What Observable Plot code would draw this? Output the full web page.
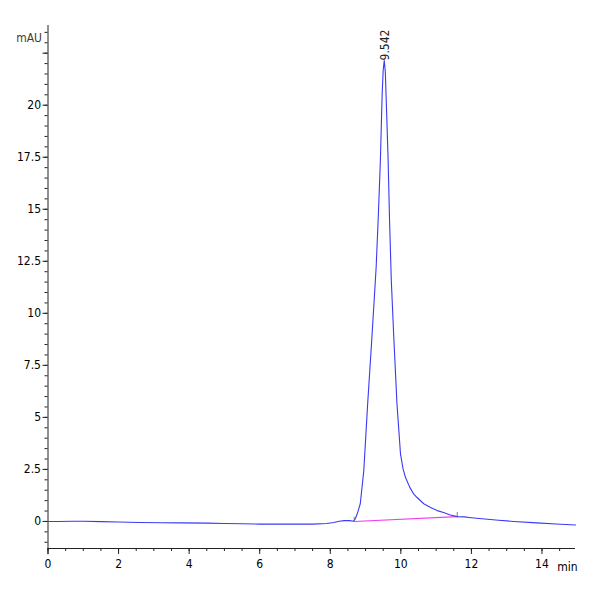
<!DOCTYPE html>
<html>
<head>
<meta charset="utf-8">
<script src="https://cdn.jsdelivr.net/npm/d3@7"></script>
<script src="https://cdn.jsdelivr.net/npm/@observablehq/plot@0.6"></script>
<style>
  html, body { margin: 0; padding: 0; background: #fff; }
  #chart svg { display: block; }
  #chart svg text { font-stretch: condensed; }
</style>
</head>
<body>
<div id="chart"></div>
<script>
// Chromatogram trace (time in min, absorbance in mAU)
const times = [0, 0.3, 0.7, 1.0, 1.5, 2.0, 2.6, 3.2, 3.8, 4.5, 5.0, 5.5, 6.0, 6.5, 7.0, 7.5, 7.9, 8.1, 8.25, 8.4, 8.55, 8.66,
  8.71, 8.78, 8.85, 8.95, 9.06, 9.18, 9.30, 9.36, 9.42, 9.47, 9.50, 9.53, 9.56, 9.60, 9.64, 9.68, 9.73, 9.80, 9.89, 9.99,
  10.06, 10.13, 10.25, 10.36, 10.46, 10.65, 10.84, 11.03, 11.21, 11.40, 11.6, 11.8, 12.0, 12.3, 12.77, 13.2, 13.85, 14.4, 14.95];
const absorbance = [0.00, 0.00, 0.01, 0.01, -0.01, -0.03, -0.05, -0.06, -0.07, -0.08, -0.10, -0.11, -0.13, -0.13, -0.13, -0.13, -0.10, -0.05, 0.01, 0.04, 0.04, 0.01,
  0.13, 0.45, 0.85, 2.44, 5.66, 8.85, 12.2, 14.6, 17.34, 20.5, 21.7, 22.15, 21.6, 19.5, 17.34, 14.46, 11.56, 8.85, 5.66, 3.25,
  2.55, 2.12, 1.65, 1.33, 1.15, 0.85, 0.67, 0.52, 0.43, 0.31, 0.23, 0.22, 0.18, 0.13, 0.06, 0.00, -0.07, -0.12, -0.17];

// Integration baseline
const baselineTimes = [8.68, 11.6];
const baselineValues = [0.00, 0.23];

// Peak annotation
const peakTimes = [9.542];
const peakValues = [22.15];
const peakLabels = ["9.542"];

// Axis ticks
const yMajorTicks = [0, 2.5, 5, 7.5, 10, 12.5, 15, 17.5, 20, 22.5];
const yLabeled = [0, 2.5, 5, 7.5, 10, 12.5, 15, 17.5, 20];
const yMinorTicks = d3.range(-1, 23.6, 0.5);
const xMajorTicks = [0, 2, 4, 6, 8, 10, 12, 14];
const xMinorTicks = d3.range(0, 14.95, 0.5);

const trace = times.map((t, i) => ({t, v: absorbance[i]}));
const baseline = baselineTimes.map((t, i) => ({t, v: baselineValues[i]}));
const peaks = peakTimes.map((t, i) => ({t, v: peakValues[i], label: peakLabels[i]}));
const marks = baseline.map(d => ({t: d.t, v1: d.v - 0.05, v2: d.v + 0.2}));

const FONT = "'Liberation Sans Narrow', 'Arial Narrow', 'DejaVu Sans Condensed', 'Liberation Sans', sans-serif";
const Y0 = -1.3, Y1 = 23.83, X1 = 14.95;

const chart = Plot.plot({
  width: 600,
  height: 600,
  marginLeft: 47.5,
  marginRight: 25,
  marginTop: 25,
  marginBottom: 52,
  x: {domain: [0, X1]},
  y: {domain: [Y0, Y1]},
  style: {fontFamily: FONT, fontSize: "12px", color: "#000", background: "#fff", overflow: "visible"},
  marks: [
    Plot.axisY({ticks: yMinorTicks, tickSize: 3, text: null, label: null, stroke: "#222"}),
    Plot.axisY({ticks: yMajorTicks, tickSize: 5, tickPadding: 2, label: null, stroke: "#222",
      tickFormat: d => yLabeled.includes(d) ? String(d) : ""}),
    Plot.axisX({ticks: xMinorTicks, tickSize: 3, text: null, label: null, stroke: "#222"}),
    Plot.axisX({ticks: xMajorTicks, tickSize: 6, tickPadding: 5, label: null, stroke: "#222",
      tickFormat: d => String(d)}),
    Plot.ruleX([0], {y1: Y0 - 0.3, y2: Y1, stroke: "#222", clip: false}),
    Plot.ruleY([Y0], {x1: 0, x2: X1, stroke: "#222"}),
    Plot.line(baseline, {x: "t", y: "v", stroke: "#f03cf0", strokeWidth: 1.1}),
    Plot.ruleX(marks, {x: "t", y1: "v1", y2: "v2", stroke: "#999", strokeWidth: 1.2}),
    Plot.line(trace, {x: "t", y: "v", stroke: "#3a3af5", strokeWidth: 1.1}),
    Plot.text(peaks, {x: "t", y: "v", text: "label", rotate: -90, textAnchor: "start", lineAnchor: "middle",
      fill: "#222", fontSize: 12}),
    Plot.text(["mAU"], {x: () => 0, y: () => 23.2, text: d => d, textAnchor: "end", dx: -6, fill: "#4a3a20", fontSize: 12}),
    Plot.text(["min"], {x: () => 14.72, y: () => Y0, text: d => d, dy: 19, fill: "#000", fontSize: 12})
  ]
});
document.getElementById("chart").appendChild(chart);
</script>
</body>
</html>
